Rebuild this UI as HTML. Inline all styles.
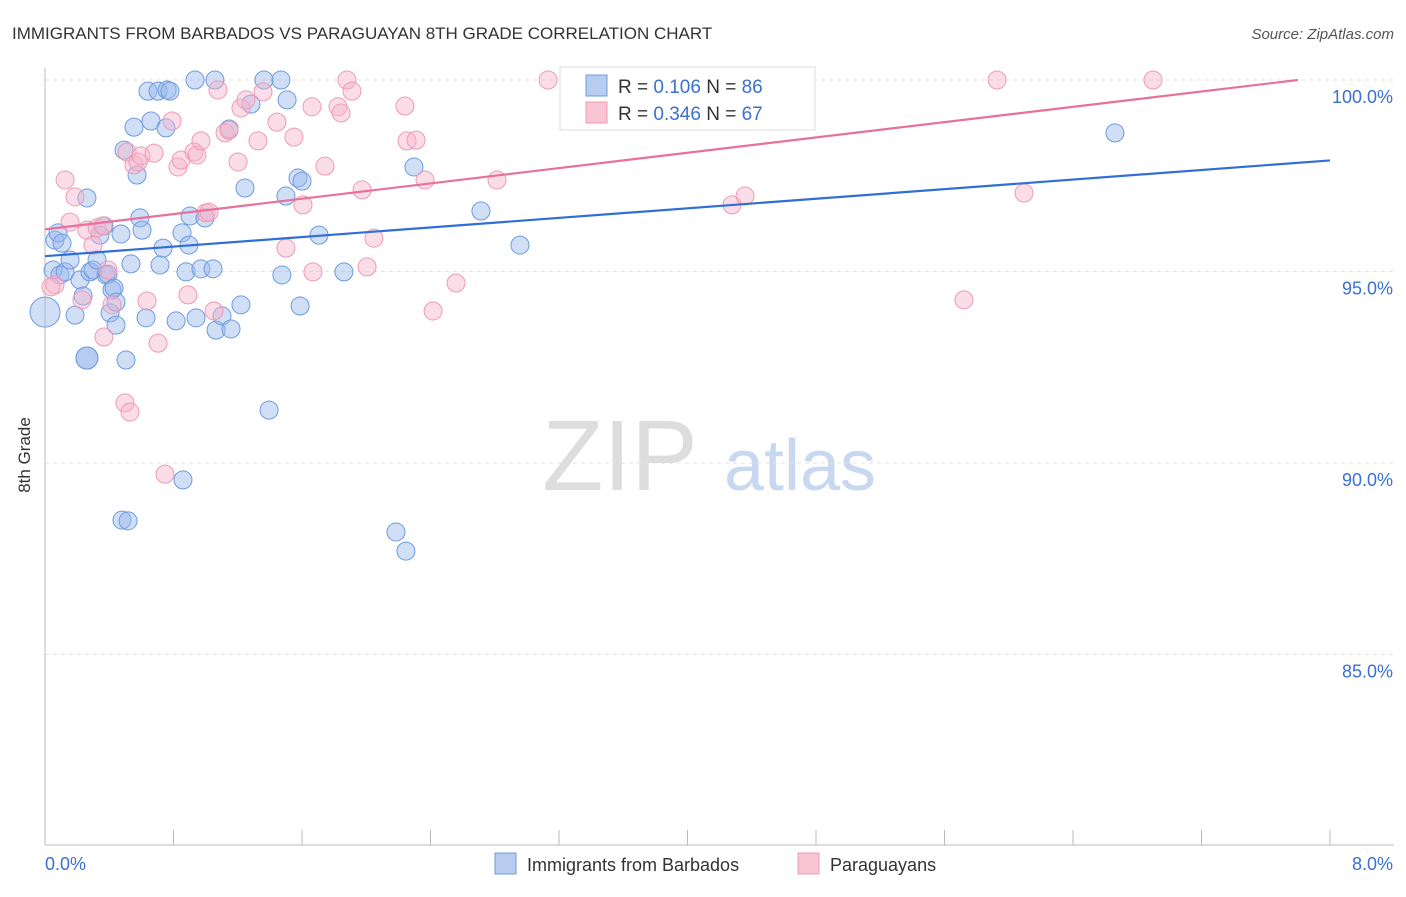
<!DOCTYPE html>
<html><head><meta charset="utf-8"><style>
body{margin:0;background:#fff;font-family:"Liberation Sans",sans-serif}
svg text{font-family:"Liberation Sans",sans-serif}
</style></head><body>
<svg id="chart" width="1406" height="892">
<text x="12" y="39" font-size="17" fill="#333">IMMIGRANTS FROM BARBADOS VS PARAGUAYAN 8TH GRADE CORRELATION CHART</text>
<text x="1394" y="39" font-size="15" fill="#555" font-style="italic" text-anchor="end">Source: ZipAtlas.com</text>
<text x="30" y="455" font-size="17" fill="#333" transform="rotate(-90 30 455)" text-anchor="middle">8th Grade</text>
<text x="620" y="490" font-size="100" fill="#ddd" font-family="Liberation Serif" text-anchor="middle">ZIP</text>
<text x="800" y="490" font-size="72" fill="#c8d8f0" text-anchor="middle">atlas</text>
<g id="grid"></g><g id="axes"></g><g id="pts"></g><g id="lines"></g>
<g>
<rect x="560" y="67" width="255" height="63" fill="#fff" stroke="#ddd"/>
<rect x="586" y="75" width="21" height="21" fill="#b7cdf0" stroke="#6d9be0"/>
<text x="618" y="93" font-size="19" fill="#333">R = <tspan fill="#3a70d0">0.106</tspan>   N = <tspan fill="#3a70d0">86</tspan></text>
<rect x="586" y="102" width="21" height="21" fill="#f8c5d5" stroke="#ee9ab5"/>
<text x="618" y="120" font-size="19" fill="#333">R = <tspan fill="#3a70d0">0.346</tspan>   N = <tspan fill="#3a70d0">67</tspan></text>
</g>
<g>
<rect x="495" y="853" width="21" height="21" fill="#b7cdf0" stroke="#6d9be0"/>
<text x="527" y="871" font-size="18" fill="#333">Immigrants from Barbados</text>
<rect x="798" y="853" width="21" height="21" fill="#f8c5d5" stroke="#ee9ab5"/>
<text x="830" y="871" font-size="18" fill="#333">Paraguayans</text>
</g>
</svg>
<script>
const blueP=[[55,240],[58,233],[62,243],[53,270],[60,275],[65,272],[70,260],[75,315],[80,280],[83,296],[87,198],[87,358],[90,272],[93,270],[97,260],[100,235],[104,226],[106,275],[108,274],[110,313],[112,290],[114,288],[116,302],[116,325],[121,234],[124,150],[126,360],[131,264],[134,127],[137,175],[140,218],[142,230],[146,318],[151,121],[148,91],[158,91],[160,265],[163,248],[166,128],[167,90],[170,91],[176,321],[182,233],[186,272],[189,245],[190,216],[195,80],[196,318],[201,269],[205,218],[213,269],[215,80],[216,330],[222,316],[229,129],[231,329],[241,305],[245,188],[251,104],[264,80],[269,410],[281,80],[282,275],[286,196],[287,100],[298,178],[300,306],[302,181],[319,235],[344,272],[396,532],[406,551],[414,167],[481,211],[520,245],[1115,133],[183,480],[122,520],[128,521],[45,312],[87,358]];
const pinkP=[[55,285],[65,180],[70,222],[75,197],[82,300],[87,230],[93,245],[97,228],[103,226],[104,337],[108,270],[112,305],[125,403],[130,412],[127,152],[134,165],[138,162],[141,156],[147,301],[154,153],[158,343],[165,474],[172,121],[178,167],[181,160],[188,295],[194,152],[197,155],[201,141],[206,213],[209,212],[214,311],[218,90],[225,133],[229,130],[238,162],[241,108],[246,100],[258,141],[263,92],[277,122],[286,248],[294,137],[303,205],[312,107],[313,272],[325,166],[338,107],[341,113],[347,80],[352,91],[362,190],[367,267],[374,238],[405,106],[407,141],[416,140],[425,180],[433,311],[456,283],[497,180],[548,80],[590,93],[720,111],[732,205],[745,196],[964,300],[997,80],[1024,193],[1153,80],[51,287]];
// data arrays (x in %, y in %)
const blueX=blueP.map(p=>+((p[0]-45)/1285*8).toFixed(3));
const blueY=blueP.map(p=>+(100-(p[1]-80)/38.3).toFixed(2));
const pinkX=pinkP.map(p=>+((p[0]-45)/1285*8).toFixed(3));
const pinkY=pinkP.map(p=>+(100-(p[1]-80)/38.3).toFixed(2));
const yTicks=[100,95,90,85];
const yTickLabels=["100.0%","95.0%","90.0%","85.0%"];
const xTickVals=[0,0.8,1.6,2.4,3.2,4,4.8,5.6,6.4,7.2,8];
const blueTrend=[95.4,97.9];
const pinkTrend=[96.1,100.1];
const sx=v=>45+v/8*1285, sy=v=>80+(100-v)*38.3;
const NS="http://www.w3.org/2000/svg";
function mk(t,a,p){const e=document.createElementNS(NS,t);for(const k in a)e.setAttribute(k,a[k]);document.getElementById(p).appendChild(e);return e;}
yTicks.forEach((v,i)=>{
 const l=mk('line',{x1:45,x2:1394,y1:sy(v),y2:sy(v),stroke:'#e2e2e2','stroke-dasharray':'4 4'},'grid');
 
 
 const t=mk('text',{x:1393,y:sy(v)+23,'font-size':18,fill:'#3a70d0','text-anchor':'end'},'grid');
 t.textContent=yTickLabels[i];
 
 
});
const ax=mk('line',{x1:45,x2:45,y1:68,y2:845,stroke:'#bbb'},'axes');


const bx=mk('line',{x1:45,x2:1394,y1:845,y2:845,stroke:'#bbb'},'axes');


xTickVals.forEach(v=>{const t=mk('line',{x1:sx(v),x2:sx(v),y1:830,y2:845,stroke:'#bbb'},'axes');
 
 });
const x0=mk('text',{x:45,y:870,'font-size':18,fill:'#3a70d0'},'axes');x0.textContent='0.0%';


const x1=mk('text',{x:1393,y:870,'font-size':18,fill:'#3a70d0','text-anchor':'end'},'axes');x1.textContent='8.0%';


blueX.forEach((v,i)=>{const big=(i===79)?15:(i===11||i===80)?11:9;
 const c=mk('circle',{cx:sx(v),cy:sy(blueY[i]),r:big,fill:'rgba(150,185,235,0.45)',stroke:'#6d9be0','stroke-width':1},'pts');
 
 });
pinkX.forEach((v,i)=>{const r=(i===71)?12:9;
 const c=mk('circle',{cx:sx(v),cy:sy(pinkY[i]),r:r,fill:'rgba(246,180,202,0.45)',stroke:'#ee9ab5','stroke-width':1},'pts');
 
 });
const bl=mk('line',{x1:sx(0),y1:sy(blueTrend[0]),x2:sx(8),y2:sy(blueTrend[1]),stroke:'#2f6fd6','stroke-width':2.2},'lines');


const pl=mk('line',{x1:sx(0),y1:sy(pinkTrend[0]),x2:sx(7.8),y2:sy(pinkTrend[0]+(pinkTrend[1]-pinkTrend[0])*7.8/8),stroke:'#e8709a','stroke-width':2.2},'lines');


</script>
</body></html>
